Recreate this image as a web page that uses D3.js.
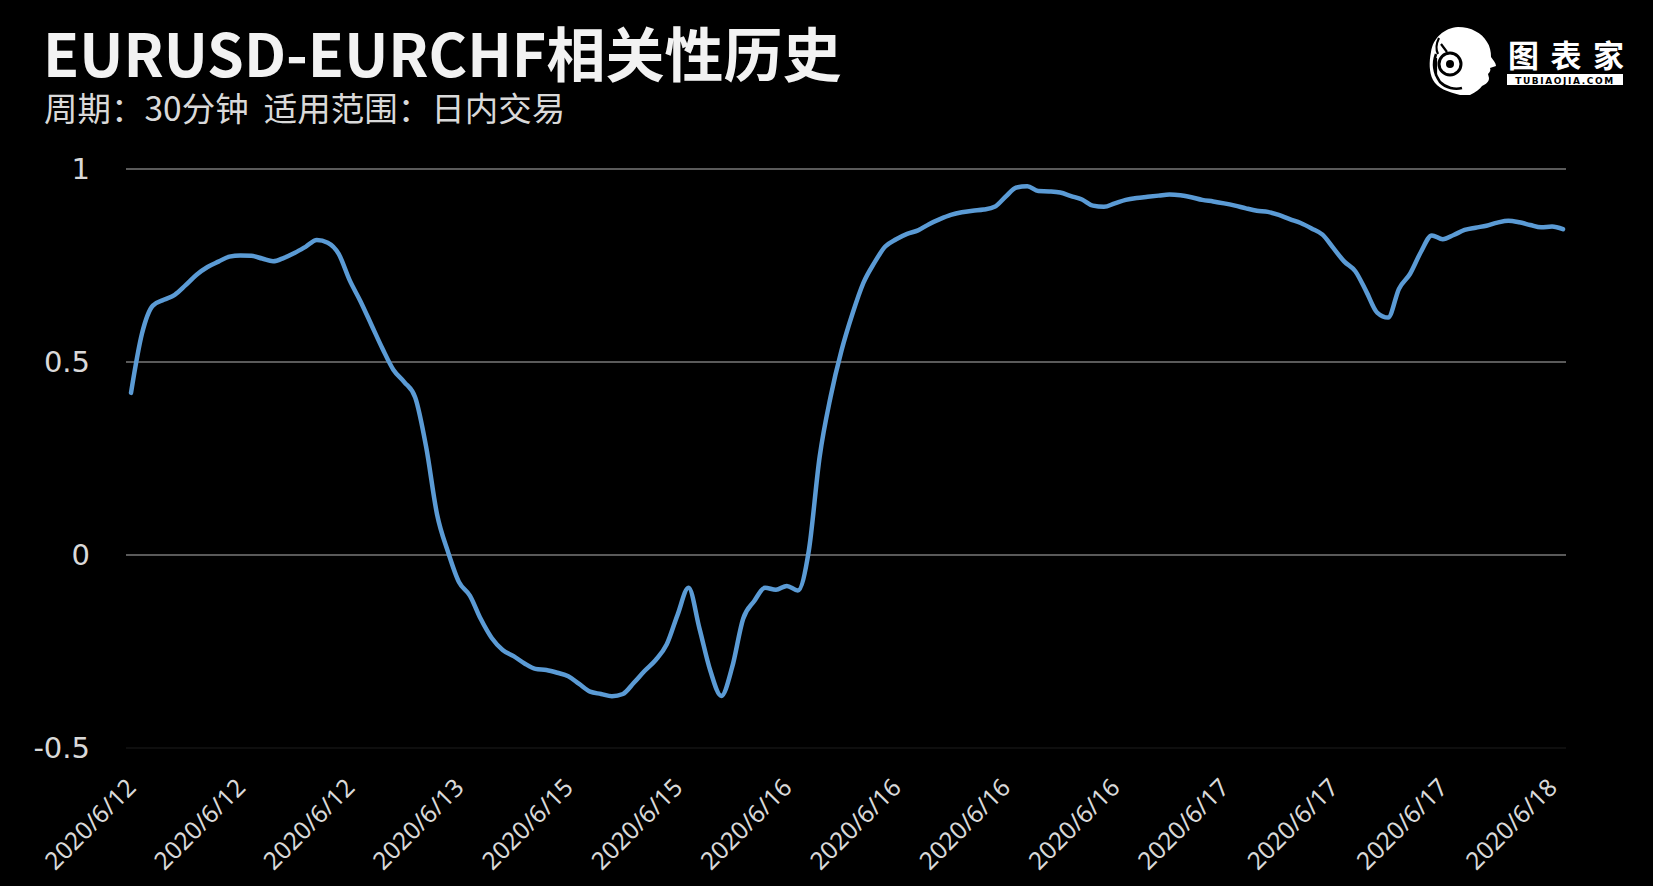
<!DOCTYPE html>
<html>
<head>
<meta charset="utf-8">
<script src="https://cdn.jsdelivr.net/npm/d3@7/dist/d3.min.js"></script>
<style>
  html, body { margin: 0; padding: 0; background: #000; }
  svg { display: block; }
</style>
</head>
<body>
<svg id="chart" width="1653" height="886"></svg>
<script>
// ---------------- data ----------------
const titleText = "EURUSD-EURCHF相关性历史";
const subtitleText = "周期：30分钟  适用范围：日内交易";

const tickLabels = ["2020/6/12","2020/6/12","2020/6/12","2020/6/13","2020/6/15","2020/6/15",
  "2020/6/16","2020/6/16","2020/6/16","2020/6/16","2020/6/17","2020/6/17","2020/6/17","2020/6/18"];
const labelEvery = 10;

const yTicks = [-0.5, 0, 0.5, 1];

const values = [
  0.420, 0.573, 0.646, 0.661, 0.674, 0.699, 0.726, 0.746, 0.760, 0.773,
  0.776, 0.775, 0.768, 0.761, 0.770, 0.783, 0.799, 0.816, 0.809, 0.780,
  0.712, 0.657, 0.596, 0.535, 0.480, 0.448, 0.408, 0.280, 0.105, 0.008,
  -0.070, -0.105, -0.166, -0.215, -0.246, -0.262, -0.281, -0.295, -0.298, -0.305,
  -0.314, -0.334, -0.354, -0.360, -0.366, -0.360, -0.331, -0.300, -0.272, -0.232,
  -0.155, -0.085, -0.190, -0.300, -0.365, -0.290, -0.165, -0.120, -0.085, -0.090,
  -0.080, -0.092, 0.010, 0.255, 0.410, 0.530, 0.625, 0.705, 0.757, 0.799,
  0.818, 0.832, 0.841, 0.857, 0.870, 0.881, 0.888, 0.892, 0.895, 0.902,
  0.928, 0.952, 0.955, 0.943, 0.942, 0.939, 0.930, 0.921, 0.905, 0.902,
  0.911, 0.920, 0.925, 0.928, 0.931, 0.934, 0.932, 0.927, 0.920, 0.916,
  0.911, 0.905, 0.898, 0.892, 0.889, 0.881, 0.870, 0.860, 0.846, 0.830,
  0.795, 0.760, 0.735, 0.683, 0.628, 0.615, 0.690, 0.728, 0.785, 0.828,
  0.818, 0.829, 0.842, 0.848, 0.853, 0.861, 0.866, 0.862, 0.855, 0.849,
  0.851, 0.844
];

// ---------------- layout ----------------
const svg = d3.select("#chart");
const gridLeft = 126, gridRight = 1566;
const yTop = 169, yBottom = 748;

const x = d3.scaleLinear().domain([0, values.length - 1]).range([131, 1563]);
const y = d3.scaleLinear().domain([-0.5, 1]).range([yBottom, yTop]);

svg.append("rect").attr("width", 1653).attr("height", 886).attr("fill", "#000");

// title
svg.append("text")
  .attr("x", 43).attr("y", 77)
  .attr("fill", "#f2f2f2")
  .style("font-family", "'Noto Sans CJK SC', 'Noto Sans', sans-serif")
  .style("font-weight", 700)
  .style("font-size", "59px")
  .text(titleText);

svg.append("text")
  .attr("x", 44).attr("y", 121)
  .attr("fill", "#d9d9d9")
  .style("font-family", "'Noto Sans CJK SC', sans-serif")
  .style("font-size", "33.5px")
  .style("white-space", "pre")
  .text(subtitleText);

// gridlines
svg.append("g").selectAll("line").data(yTicks).join("line")
  .attr("x1", gridLeft).attr("x2", gridRight)
  .attr("y1", d => y(d)).attr("y2", d => y(d))
  .attr("stroke", d => d === -0.5 ? "#1c1c1c" : "#5a5a5a")
  .attr("stroke-width", d => d === -0.5 ? 1 : 2);

// y axis labels
const yAxis = d3.axisLeft(y).tickValues(yTicks).tickSize(0).tickPadding(0)
  .tickFormat(d => String(d));
const gy = svg.append("g").attr("transform", "translate(90,0)").call(yAxis);
gy.select(".domain").remove();
gy.selectAll("text")
  .attr("fill", "#d9d9d9")
  .style("font-family", "'DejaVu Sans', sans-serif")
  .style("font-size", "29px");

// x axis labels
const xTickVals = tickLabels.map((_, i) => i * labelEvery);
const xAxis = d3.axisBottom(x).tickValues(xTickVals).tickSize(0)
  .tickFormat(d => tickLabels[d / labelEvery]);
const gx = svg.append("g").attr("transform", `translate(0,${yBottom})`).call(xAxis);
gx.select(".domain").remove();
gx.selectAll("text")
  .attr("y", 0).attr("dy", 0)
  .attr("text-anchor", "end")
  .attr("transform", "translate(6,41) rotate(-45)")
  .attr("fill", "#d9d9d9")
  .style("font-family", "'Noto Sans', sans-serif")
  .style("font-size", "24.5px");

// line
const line = d3.line().x((d, i) => x(i)).y(d => y(d)).curve(d3.curveMonotoneX);
svg.append("path").datum(values)
  .attr("d", line)
  .attr("fill", "none")
  .attr("stroke", "#5b9bd5")
  .attr("stroke-width", 4.5)
  .attr("stroke-linejoin", "round")
  .attr("stroke-linecap", "round");

// ---------------- logo ----------------
const logo = svg.append("g");
logo.append("path")
  .attr("d", "M1458,27 C1444,28 1433,38 1431,52 C1429,62 1429,72 1433,80 C1437,88 1448,92 1460,95 L1470,95 C1476,92 1480,89 1482,86 C1486,84 1489,82 1489,78 L1488,74 C1490,72 1491,70 1490,68 L1496,66 C1496,63 1493,60 1491,57 C1491,52 1490,46 1487,42 C1482,33 1471,27 1458,27 Z")
  .attr("fill", "#fff");
logo.append("circle").attr("cx", 1450).attr("cy", 64).attr("r", 11)
  .attr("fill", "none").attr("stroke", "#000").attr("stroke-width", 3);
logo.append("circle").attr("cx", 1450).attr("cy", 64).attr("r", 4).attr("fill", "#000");
logo.append("path")
  .attr("d", "M1439,38 C1436,44 1436,50 1438,54 M1436,58 L1436,76 M1441,44 L1447,52")
  .attr("stroke", "#000").attr("stroke-width", 2.2).attr("fill", "none");
logo.append("path")
  .attr("d", "M1436,54 C1433,62 1433,72 1440,82 C1446,88 1455,90 1462,88")
  .attr("stroke", "#000").attr("stroke-width", 2.5).attr("fill", "none");
logo.append("text")
  .attr("x", 1508).attr("y", 67)
  .attr("fill", "#fff")
  .style("font-family", "'Noto Sans CJK SC', sans-serif")
  .style("font-weight", 700)
  .style("font-size", "31px")
  .attr("textLength", 116)
  .text("图表家");
logo.append("rect").attr("x", 1507).attr("y", 74).attr("width", 116).attr("height", 11).attr("fill", "#fff");
logo.append("text")
  .attr("x", 1565).attr("y", 83.5)
  .attr("text-anchor", "middle")
  .attr("fill", "#000")
  .style("font-family", "'DejaVu Sans', sans-serif")
  .style("font-weight", 700)
  .style("font-size", "9px")
  .style("letter-spacing", "1.6px")
  .text("TUBIAOJIA.COM");
</script>
</body>
</html>
